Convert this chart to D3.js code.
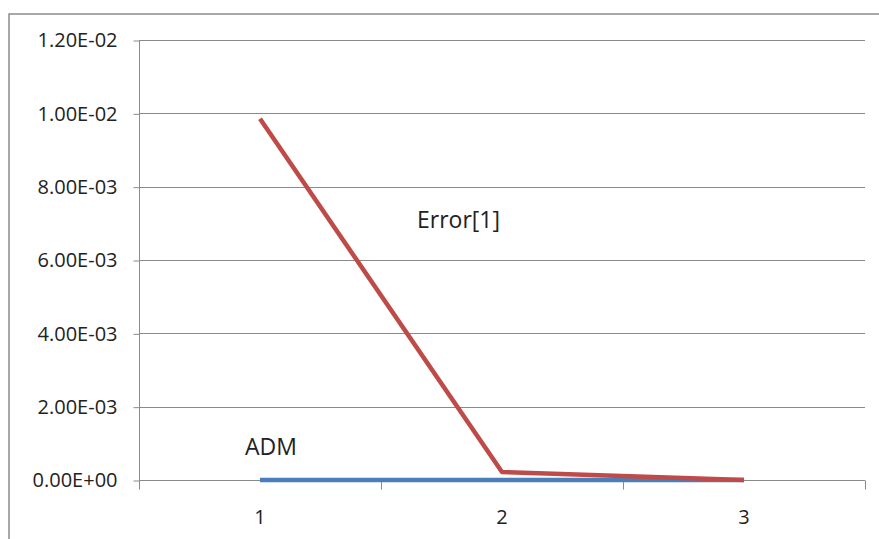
<!DOCTYPE html>
<html>
<head>
<meta charset="utf-8">
<script src="https://cdn.jsdelivr.net/npm/d3@7"></script>
<style>
  html, body { margin: 0; padding: 0; background: #fff; }
  svg { display: block; }
  text { font-family: "Open Sans", "Liberation Sans", sans-serif; fill: #222; }
</style>
</head>
<body>
<svg id="chart" width="879" height="539"></svg>
<script>
// Chart data
const categories = ["1", "2", "3"];
const errorValues = [0.00985, 0.00022, 0.0];
const admValues = [0.0, 0.0, 0.0];
const yTicks = [0, 0.002, 0.004, 0.006, 0.008, 0.010, 0.012];
const yTickLabels = ["0.00E+00", "2.00E-03", "4.00E-03", "6.00E-03", "8.00E-03", "1.00E-02", "1.20E-02"];
const seriesLabels = ["Error[1]", "ADM"];

const svg = d3.select("#chart");
const plotLeft = 139, plotRight = 865, plotTop = 40, plotBottom = 480;

// Outer chart frame (top and left edges)
svg.append("path")
  .attr("d", "M9,539 L9,14 L879,14")
  .attr("fill", "none").attr("stroke", "#8c8c8c").attr("stroke-width", 1.5);

const x = d3.scaleBand().domain(categories).range([plotLeft, plotRight]);
const y = d3.scaleLinear().domain([0, 0.012]).range([plotBottom, plotTop]);

// Horizontal gridlines
svg.append("g").selectAll("line").data(yTicks).join("line")
  .attr("x1", plotLeft).attr("x2", plotRight)
  .attr("y1", d => Math.round(y(d)) + 0.5).attr("y2", d => Math.round(y(d)) + 0.5)
  .attr("stroke", "#8a8a8a").attr("stroke-width", 1);

// Y axis
const yAxis = d3.axisLeft(y).tickValues(yTicks)
  .tickFormat((d, i) => yTickLabels[i]).tickSize(6).tickPadding(16);
const gy = svg.append("g").attr("transform", `translate(${plotLeft + 0.5},0.5)`).call(yAxis);
gy.select(".domain").attr("stroke", "#8a8a8a").attr("d", `M0,${plotTop}V${plotBottom}`);
gy.selectAll(".tick line").attr("stroke", "#8a8a8a");
gy.selectAll(".tick text").style("font-size", "20px").attr("fill", "#222");

// X axis: ticks at category boundaries
const gx = svg.append("g").attr("transform", `translate(0,${plotBottom + 0.5})`);
gx.append("line").attr("x1", plotLeft).attr("x2", plotRight).attr("stroke", "#8a8a8a");
const bounds = categories.map(c => x(c)).concat([plotRight]);
gx.selectAll("line.tk").data(bounds).join("line").attr("class", "tk")
  .attr("x1", d => Math.round(d) + 0.5).attr("x2", d => Math.round(d) + 0.5)
  .attr("y1", 0).attr("y2", 9).attr("stroke", "#8a8a8a");
gx.selectAll("text").data(categories).join("text")
  .attr("x", d => x(d) + x.bandwidth() / 2).attr("y", 43)
  .attr("text-anchor", "middle").style("font-size", "20px").text(d => d);

const line = d3.line()
  .x((d, i) => x(categories[i]) + x.bandwidth() / 2)
  .y(d => y(d));

// ADM series
svg.append("path").datum(admValues).attr("d", line)
  .attr("fill", "none").attr("stroke", "#4a7ebb").attr("stroke-width", 4.5)
  .attr("stroke-linejoin", "round");

// Error[1] series
svg.append("path").datum(errorValues).attr("d", line)
  .attr("fill", "none").attr("stroke", "#be4b48").attr("stroke-width", 4.5)
  .attr("stroke-linejoin", "round");

// Series labels
svg.append("text").attr("x", 417).attr("y", 228).style("font-size", "23px").text(seriesLabels[0]);
svg.append("text").attr("x", 245).attr("y", 455).style("font-size", "23px").text(seriesLabels[1]);
</script>
</body>
</html>
